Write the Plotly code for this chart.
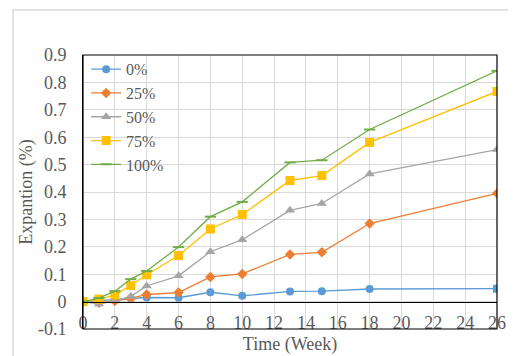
import plotly.graph_objects as go

weeks = [0, 1, 2, 3, 4, 6, 8, 10, 13, 15, 18, 26]
s0 = [0.0, 0.004, 0.008, 0.012, 0.015, 0.014, 0.034, 0.021, 0.037, 0.038, 0.046, 0.047]
s25 = [0.0, -0.004, 0.002, 0.012, 0.026, 0.033, 0.09, 0.101, 0.172, 0.18, 0.285, 0.395]
s50 = [0.0, -0.009, 0.003, 0.019, 0.057, 0.094, 0.182, 0.226, 0.333, 0.358, 0.466, 0.555]
s75 = [0.0, 0.009, 0.024, 0.059, 0.098, 0.168, 0.265, 0.318, 0.442, 0.46, 0.581, 0.767]
s100 = [0.0, 0.013, 0.038, 0.082, 0.112, 0.199, 0.31, 0.364, 0.508, 0.516, 0.628, 0.842]

names = ["0%", "25%", "50%", "75%", "100%"]
ytick_vals = [-0.1, 0, 0.1, 0.2, 0.3, 0.4, 0.5, 0.6, 0.7, 0.8, 0.9]
ytick_text = ["-0.1", "0", "0.1", "0.2", "0.3", "0.4", "0.5", "0.6", "0.7", "0.8", "0.9"]
xtick_vals = list(range(0, 27, 2))

FONT = "Liberation Serif"
GRAY = "#595959"
FS = 18

styles = [
    dict(color="#5B9BD5", symbol=["circle"] * 11 + ["square"], size=8),
    dict(color="#ED7D31", symbol="diamond", size=8),
    dict(color="#A5A5A5", symbol="triangle-up", size=9),
    dict(color="#FFC000", symbol="square", size=9),
    dict(color="#70AD47", symbol="line-ew", size=8),
]

fig = go.Figure()
for name, ys, st in zip(names, [s0, s25, s50, s75, s100], styles):
    marker = dict(color=st["color"], symbol=st["symbol"], size=st["size"])
    if st["symbol"] == "line-ew":
        marker["line"] = dict(color=st["color"], width=2)
    fig.add_trace(go.Scatter(
        x=weeks, y=ys, name=name, mode="lines+markers",
        line=dict(color=st["color"], width=1.3),
        marker=marker,
    ))

# page body has an 8px margin; figure sized to fill the rest of the window
fig.update_layout(
    width=508, height=348,
    margin=dict(l=75, r=19, t=47, b=27, autoexpand=False),
    paper_bgcolor="white", plot_bgcolor="white",
    font=dict(family=FONT, size=FS, color=GRAY),
    showlegend=True,
    legend=dict(x=0.0075, y=1.01, xanchor="left", yanchor="top",
                bgcolor="rgba(0,0,0,0)", font=dict(family=FONT, size=16, color=GRAY),
                itemwidth=30, tracegroupgap=0),
    xaxis=dict(range=[0, 26], tickvals=xtick_vals, showgrid=True, gridcolor="#D9D9D9",
               gridwidth=1, zeroline=False, showline=True, linecolor="black", linewidth=1,
               anchor="free", position=0.1, ticks="", ticklabelstandoff=5, automargin=False,
               title=dict(text="Time (Week)", font=dict(family=FONT, size=FS, color=GRAY), standoff=5),
               tickfont=dict(family=FONT, size=FS, color=GRAY)),
    yaxis=dict(range=[-0.1, 0.9], tickvals=ytick_vals, ticktext=ytick_text, showgrid=True,
               gridcolor="#D9D9D9", gridwidth=1, zeroline=False, showline=True,
               linecolor="black", linewidth=1, ticks="", ticklabelstandoff=12, automargin=False,
               title=dict(text="Expantion (%)", font=dict(family=FONT, size=FS, color=GRAY), standoff=0),
               tickfont=dict(family=FONT, size=FS, color=GRAY)),
    shapes=[
        dict(type="rect", xref="paper", yref="paper", x0=0, x1=1, y0=0, y1=1,
             line=dict(color="black", width=1.2), layer="above"),
        dict(type="rect", xref="paper", yref="paper", x0=-0.169, x1=1.2, y0=-0.3, y1=1.164,
             line=dict(color="#D9D9D9", width=1.5), layer="below"),
    ],
)

fig.write_html("out.html")
